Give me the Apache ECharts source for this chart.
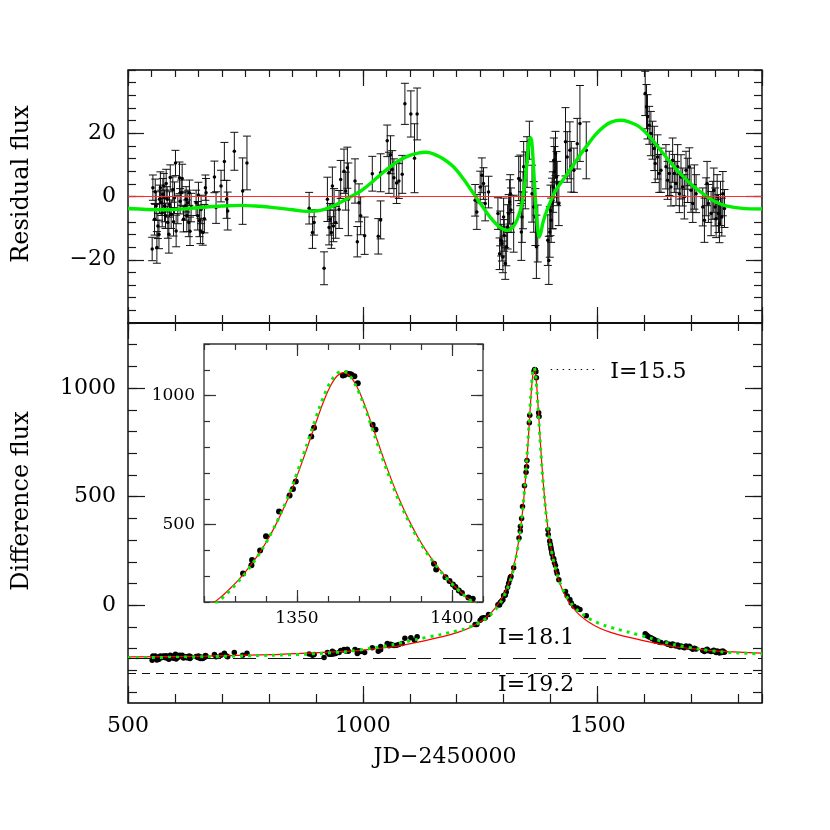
<!DOCTYPE html>
<html><head><meta charset="utf-8">
<script src="https://cdn.jsdelivr.net/npm/echarts@6/dist/echarts.min.js"></script>
<style>html,body{margin:0;padding:0;background:#fff}#c{width:830px;height:830px}</style>
</head><body><div id="c"></div>
<script>
// ---------- residual panel data (JD-2450000, residual flux, error) ----------
const resJD = [
551.5,553,556.5,558,560,561.5,563.6,566,567,569,570.7,572.8,574.2,576.3,577.7,579.9,581.3,583.4,584.8,587,588.4,590,591.9,595.4,597,599,601.1,602.5,606.1,609.6,611,613.2,615.3,618.1,621.6,623.8,625.2,627.3,629.4,630.8,632,634.4,645,648.5,650,652.1,654.2,655.6,659.2,662.7,664.8,666.2,684,687.5,698.1,705.2,710.1,712.3,726.4,744.1,753.3,
885.7,892.8,896.3,917.5,924.6,928.1,930.3,933.1,935.2,937.4,938.8,942.3,949.4,952.9,960,963.6,967.1,969.2,983.4,988.3,991.9,995.4,1003.9,1020.2,1032.9,1037.9,1037.9,1052,1055.6,1059.1,1062.7,1066.2,1071.9,1076.8,1083.9,1089.6,1102.3,1110.1,1115.7,
1239.2,1242.8,1249.9,1253.5,1257,1260.6,1267.7,1287.7,1291.2,1292.6,1294.8,1296.2,1298.3,1299.8,1301.2,1303.3,1305.5,1308.3,1310.5,1312.6,1314,1315.5,1321.2,1331.9,1335.4,1337.5,1339,1341.1,1342.5,1346.1,1349.7,1354.7,1360.4,1363.9,1367.5,1369.6,1372.5,1393.9,1396,1398.1,1399.6,1401,1403.1,1404.6,1405.3,1406.7,1408.1,1410.3,1412.4,1413.8,1417.4,1431.6,1435.2,1440.9,1443.8,1449.4,1456.6,1462.3,1475.8,
1601.3,1604.1,1606.2,1609.8,1613.4,1616.9,1620.5,1622.6,1627.6,1631.2,1634.8,1645.5,1649,1652.6,1656.1,1659.7,1663.3,1666.8,1670.4,1674,1677.5,1681.1,1684.7,1688.2,1691.8,1695.3,1698.9,1702.5,1706,1709.6,1723.8,1727.4,1731,1733.1,1735.9,1741.6,1745.2,1747.3,1750.2,1752.3,1754.5,1757.3,1759.4,1761.6,1764.4,1766.6,1770.1];
const resVal = [
-16.6,2.8,-7.2,1.5,-3,-16.1,-9.3,-12,-0.9,2.8,-2,-5.1,0.7,3.3,-3,-6.1,4.1,-0.9,-8.2,-11.9,-2.5,6,-5.6,2.2,-8,-0.4,10.6,-10.9,-4.1,5.9,-1.5,1.2,5.7,-7.2,-3,-0.9,-6.1,-2,-8.2,1.2,-11,-3.5,-2,-6.1,0.5,-7.7,-10.9,-4.1,-11.4,-7,2.8,1.2,6.2,-3.5,3.3,11.1,-0.9,-4.6,14.3,1.7,10.6,
-3.7,-11.4,-8.2,-22.7,-0.9,-9.8,-7.2,-11.4,3.3,-9.3,-3,-8.2,-4.1,5.4,8,1.7,9.1,-0.9,4.9,-14.3,-2,-6.1,-12.4,7.2,-12.6,-7.4,7.5,17.6,7.5,13.2,8.5,5.9,4.3,4.9,7,29.3,26.1,12.1,26.1,
-1.2,-4.9,3,6.7,4.1,-2.2,1.4,-5.4,-18.1,-10.1,-13.8,-14.9,-19.1,-6.5,-12.3,-21.2,-15.9,-9.6,-5.4,-1.7,0.9,-4.3,-8.6,5.7,5.1,-11.2,-6.5,-1.2,9.4,5.1,10.9,17.8,0.9,-3.3,-6.5,-15.9,-11.7,-13.8,-20.2,-11.2,-4.4,-7.5,-2.2,-1.2,3,11.5,7.8,13.6,6.2,4.1,-2.2,17.3,12.5,14.6,9.4,8.3,16.7,23.1,14.6,
32.6,28.4,25.2,22.5,19.9,17.8,15.2,10.4,12.5,7.3,8.3,9.4,5.1,7.3,3,11.5,7.3,4.1,9.4,0.9,6.2,3,-0.1,8.3,5.1,9.4,2,-2.2,3,0.9,-3.3,-7.5,-0.1,4.1,-2.2,-5.4,-1.2,2,-3.3,-7,-0.1,-5.4,-8.6,-2.2,-6.5,0.9,-3.8];
const resErr = [
3.7,4,5,4,4.5,5,4,4.5,4.5,5,4,4.5,5,4,5,4,4.5,4,5,6,4,4,4.5,4,4.5,5,4,5,4.5,5,4,4,4.5,4,4.5,4,5,4,4.5,4,4.5,4.5,4,4.5,4,5,4,4.5,4,4.5,4,4.5,5,5,5,6,6,6,6,10.5,8.5,
5,5,4,5.2,7,5.5,5,5,6,5,5.5,5,6,6,7,6,6.5,11.5,7,4.8,6,6,5.9,5.5,5.6,6,6,5,6.5,6,6,6,6.5,5.5,6,6.5,7.3,10.9,8.2,
5,5.5,5,5.5,5,5.5,5,5,5,5.5,5,5.5,5,6,5,5,6,7,6,7,6,7,9,7,8,9,8,9,8,9,8,6,9,8,9,10,9,8,7.6,8,8,7,8,9,8,7,8,7,8,7,7,10.8,8,9,8,7,8,12,9,
7,7,7,6,7,6,7,6,7,6,7,7,6,7,6,7,6,7,7,6,7,6,7,6,7,6,7,6,7,6,6,7,6,7,6,7,6,7,6,6,7,6,6,7,6,7,6];

// green model minus red model (residual panel curve)
const modelResJD  = [500,540,580,620,660,700,740,780,810,850,880,900,920,940,960,980,1000,1020,1040,1060,1080,1100,1120,1135,1150,1170,1193,1215,1236,1255,1271,1290,1308,1320,1328,1334,1339,1344,1349,1353,1357,1360,1364,1368,1372,1375.5,1379,1384,1392,1400,1410,1425,1442,1460,1478,1495,1514,1530,1549,1565,1585,1600,1620,1640,1663,1685,1706,1728,1749,1770,1799,1825,1850];
const modelResVal = [-3.8,-4.1,-4.2,-3.9,-3.4,-3,-2.8,-3.1,-3.5,-4.2,-4.7,-4.6,-4,-2.8,-1.3,0.4,2.2,4.6,7.2,9.6,11.6,13,13.8,14,13.5,12,9.4,5.4,0.9,-3.2,-6.5,-9.5,-10.7,-9.6,-7.5,-5,-2.2,3,10,16,18.6,17,8,-2,-9.5,-12.8,-11.5,-8,-4.4,-1.5,1.8,5,8.6,12.6,16.2,19.5,22.2,23.6,24.1,23.7,22.4,20.6,17.3,13.5,9.4,5.9,3,0.5,-1.5,-2.8,-3.6,-3.9,-3.9];

// ---------- difference-flux panel ----------
const fluxJD = [
551.5,553,556.5,558,560,561.5,563.6,566,567,569,570.7,572.8,574.2,576.3,577.7,579.9,581.3,583.4,584.8,587,588.4,590,591.9,595.4,597,599,601.1,602.5,606.1,609.6,611,613.2,615.3,618.1,621.6,623.8,625.2,627.3,629.4,630.8,632,634.4,645,648.5,650,652.1,654.2,655.6,659.2,662.7,664.8,666.2,684,687.5,698.1,705.2,710.1,712.3,726.4,744.1,753.3,
885.7,892.8,896.3,917.5,924.6,928.1,930.3,933.1,935.2,937.4,938.8,942.3,949.4,952.9,960,963.6,967.1,969.2,983.4,988.3,991.9,995.4,1003.9,1020.2,1032.9,1037.9,1037.9,1052,1055.6,1059.1,1062.7,1066.2,1071.9,1076.8,1083.9,1089.6,1102.3,1110.1,1115.7,
1239.2,1242.8,1249.9,1253.5,1257,1260.6,1267.7,1287.7,1291.2,1292.6,1294.8,1296.2,1298.3,1299.8,1301.2,1303.3,1305.5,1308.3,1310.5,1312.6,1314,1315.5,1321.2,
1332.6,1335.3,1335.5,1338.1,1340,1344.2,1347.6,1348.7,1349.6,1354.6,1355.5,1364.8,1365.3,1366,1366.9,1367.5,1368.5,1369.6,1374.4,1375.3,1394.2,1394.9,1397.9,1399.2,1400.3,1401.1,1402.2,1403.2,
1405.3,1406.7,1408.1,1410.3,1412.4,1413.8,1417.4,1431.6,1435.2,1440.9,1443.8,1449.4,1456.6,1462.3,1475.8,
1601.3,1604.1,1606.2,1609.8,1613.4,1616.9,1620.5,1622.6,1627.6,1631.2,1634.8,1645.5,1649,1652.6,1656.1,1659.7,1663.3,1666.8,1670.4,1674,1677.5,1681.1,1684.7,1688.2,1691.8,1695.3,1698.9,1702.5,1706,1709.6,1723.8,1727.4,1731,1733.1,1735.9,1741.6,1745.2,1747.3,1750.2,1752.3,1754.5,1757.3,1759.4,1761.6,1764.4,1766.6,1770.1];
const fluxVal = [
-253,-233,-243,-234,-239,-252,-245,-248,-237,-233,-238,-241,-235,-233,-239,-242,-232,-237,-244,-248,-238,-230,-242,-234,-244,-236,-225,-247,-240,-230,-236,-235,-230,-243,-239,-237,-242,-236,-242,-233,-245,-238,-236,-240,-234,-242,-245,-238,-245,-241,-231,-233,-227,-237,-230,-221,-233,-237,-218,-230,-221,
-224,-230,-227,-240,-217,-226,-223,-226,-212,-224,-218,-222,-218,-208,-204,-210,-203,-212,-204,-222,-209,-213,-217,-195,-212,-205,-190,-176,-186,-179,-183,-185,-184,-181,-176,-152,-150,-161,-145,
-89,-88,-69,-60,-57,-58,-43,2,1,13,16,21,26,45,46,46,61,83,101,117,128,133,173,
310,342,363,400,455,551,613,638,667,841,875,1078,1080,1086,1084,1082,1075,1048,887,869,348,326,296,281,268,258,245,235,
217,213,196,183,159,146,118,63,43,27,11,-4,-12,-19,-48,
-131,-137,-141,-146,-150,-154,-158,-164,-164,-170,-171,-174,-180,-179,-185,-178,-183,-187,-183,-192,-188,-192,-196,-188,-192,-189,-197,-202,-198,-201,-208,-213,-206,-202,-209,-213,-210,-207,-213,-217,-210,-216,-220,-213,-218,-211,-216];

// model light curves: red (fit) and green (dotted)
const modelJD = [500,665,805,880,965,1015,1065,1115,1165,1190,1215,1235,1250,1265,1275,1285,1295,1305,1310,1315,1319,1321,1323,1325,1327,1329,1331,1333,1335,1337,1339,1341,1343,1345,1347,1349,1351,1353,1355,1357,1359,1361,1363,1365,1367,1369,1371,1373,1375,1377,1379,1381,1383,1385,1387,1389,1391,1393,1395,1397,1399,1401,1403,1405,1407,1409,1411,1415,1420,1425,1435,1445,1455,1465,1480,1495,1515,1540,1565,1615,1665,1715,1765,1850];
const redFlux = [-238,-234,-227,-220,-212,-203,-191,-171,-147,-133,-115,-95,-76,-51,-30,-4,29,72,99,131,161,178,196,215,236,259,284,312,342,375,411,451,496,545,598,657,721,788,858,926,990,1042,1077,1089,1077,1042,990,926,858,788,721,657,598,545,496,451,411,375,342,312,284,259,236,215,196,178,161,131,99,72,29,-4,-30,-51,-76,-95,-115,-133,-147,-171,-191,-203,-212,-220];
const greenFlux = [-242,-237,-230,-225,-213,-199,-181,-157,-135,-123,-110,-94,-78,-56,-37,-13,19,62,89,121,151,169,187,207,228,252,278,307,338,372,409,451,498,549,605,667,734,804,875,945,1008,1057,1087,1095,1078,1038,982,916,846,776,710,647,589,537,489,445,406,371,339,309,282,258,236,215,197,180,163,134,103,77,37,5,-19,-37,-59,-76,-93,-109,-123,-153,-182,-201,-215,-224];

// magnitude reference levels
const levelText = ['I=15.5','I=18.1','I=19.2'];
const levelFlux = [1085,-243,-315];
const peakLineJD = [1400,1500];
const levelLabelJD = [1526,1287,1287];
const levelLabelFlux = [1072,-151,-367];

// tick values
const mainXMajor = [500,1000,1500];
const resYMajor = [-20,0,20];
const fluxYMajor = [0,500,1000];
const fluxYMinor = [-400,-300,-200,-100,0,100,200,300,400,500,600,700,800,900,1000,1100,1200];
const insetXMajor = [1350,1400];
const insetYMajor = [500,1000];

// ---------- chart ----------
const FONT = 'DejaVu Serif';
const chart = echarts.init(document.getElementById('c'), null, {renderer:'canvas'});
const tickStyle = (c,w)=>({color:c||'#1a1a1a', width:w||1.2});
const numFmt = v => (v<0 ? '\u2212'+Math.abs(v) : String(v));

function axis(o){
  const a = {
    type:'value', gridIndex:o.g, position:o.pos, min:o.min, max:o.max, z:o.z||0,
    axisLine:{show:false,onZero:false}, splitLine:{show:false},
    axisTick:{show:true, inside:true, length:o.len, lineStyle:tickStyle(o.tc,o.tw)},
    axisLabel:{show:false}
  };
  if (o.interval!==undefined) a.interval = o.interval;
  if (o.custom) a.axisTick.customValues = o.custom;
  if (o.label) a.axisLabel = Object.assign({show:true, fontFamily:FONT, color:'#000', showMinLabel:true, showMaxLabel:true, formatter:numFmt}, o.label);
  return a;
}

const xAxis = [
  axis({g:0,pos:'bottom',min:500,max:1850,interval:500,len:16}),
  axis({g:0,pos:'bottom',min:500,max:1850,interval:100,len:8}),
  axis({g:0,pos:'top',min:500,max:1850,interval:500,len:16}),
  axis({g:0,pos:'top',min:500,max:1850,interval:50,len:7}),
  axis({g:1,pos:'bottom',min:500,max:1850,custom:mainXMajor,len:17,label:{customValues:mainXMajor,fontSize:22,margin:12}}),
  axis({g:1,pos:'bottom',min:500,max:1850,interval:100,len:9}),
  axis({g:1,pos:'top',min:500,max:1850,custom:mainXMajor,len:16}),
  axis({g:1,pos:'top',min:500,max:1850,interval:100,len:8}),
  axis({g:2,pos:'bottom',min:1320,max:1410,custom:insetXMajor,len:12,z:6,tc:'#333',label:{customValues:insetXMajor,fontSize:17,margin:8}}),
  axis({g:2,pos:'bottom',min:1320,max:1410,interval:10,len:6,z:6,tc:'#333'}),
  axis({g:2,pos:'top',min:1320,max:1410,custom:insetXMajor,len:12,z:6,tc:'#333'}),
  axis({g:2,pos:'top',min:1320,max:1410,interval:10,len:6,z:6,tc:'#333'})
];
const yAxis = [
  axis({g:0,pos:'left',min:-40,max:40,custom:resYMajor,len:16,label:{customValues:resYMajor,fontSize:22,margin:12}}),
  axis({g:0,pos:'left',min:-40,max:40,interval:4,len:8}),
  axis({g:0,pos:'right',min:-40,max:40,custom:resYMajor,len:16}),
  axis({g:0,pos:'right',min:-40,max:40,interval:4,len:8}),
  axis({g:1,pos:'left',min:-450,max:1300,custom:fluxYMajor,len:17,label:{customValues:fluxYMajor,fontSize:22,margin:12}}),
  axis({g:1,pos:'left',min:-450,max:1300,custom:fluxYMinor,len:9}),
  axis({g:1,pos:'right',min:-450,max:1300,custom:fluxYMajor,len:17}),
  axis({g:1,pos:'right',min:-450,max:1300,custom:fluxYMinor,len:9}),
  axis({g:2,pos:'left',min:200,max:1200,custom:insetYMajor,len:12,z:6,tc:'#333',label:{customValues:insetYMajor,fontSize:17,margin:9}}),
  axis({g:2,pos:'left',min:200,max:1200,interval:100,len:6,z:6,tc:'#333'}),
  axis({g:2,pos:'right',min:200,max:1200,custom:insetYMajor,len:12,z:6,tc:'#333'}),
  axis({g:2,pos:'right',min:200,max:1200,interval:100,len:6,z:6,tc:'#333'})
];

const errData = resJD.map((t,i)=>[t, resVal[i]-resErr[i], resVal[i]+resErr[i]]);
const resPts = resJD.map((t,i)=>[t, resVal[i]]);
const resModel = modelResJD.map((t,i)=>[t, modelResVal[i]]);
const fluxPts = fluxJD.map((t,i)=>[t, fluxVal[i]]);
const redLine = modelJD.map((t,i)=>[t, redFlux[i]]);
const greenLine = modelJD.map((t,i)=>[t, greenFlux[i]]);
const labelPts = levelText.map((s,i)=>[levelLabelJD[i], levelLabelFlux[i], s]);

const GREEN = '#00ee00', RED = '#ff0000';

const option = {
  animation:false,
  backgroundColor:'#fff',
  grid:[
    {left:128, top:70, width:634, height:253, show:true, borderColor:'#000', borderWidth:1.4, backgroundColor:'transparent', z:0},
    {left:128, top:323, width:634, height:380, show:true, borderColor:'#000', borderWidth:1.4, backgroundColor:'transparent', z:0},
    {left:204, top:344, width:279, height:258, show:true, borderColor:'#333', borderWidth:1.3, backgroundColor:'#fff', z:5}
  ],
  xAxis, yAxis,
  graphic:[
    {type:'text', x:22, y:184, rotation:Math.PI/2, z:10, style:{text:'Residual flux', font:'24px "DejaVu Serif"', fill:'#000', textAlign:'center', textVerticalAlign:'middle'}},
    {type:'text', x:22, y:501, rotation:Math.PI/2, z:10, style:{text:'Difference flux', font:'24px "DejaVu Serif"', fill:'#000', textAlign:'center', textVerticalAlign:'middle'}},
    {type:'text', x:445, y:757, z:10, style:{text:'JD\u22122450000', font:'22px "DejaVu Serif"', fill:'#000', textAlign:'center', textVerticalAlign:'middle'}}
  ],
  series:[
    // residual panel
    {type:'custom', xAxisIndex:0, yAxisIndex:0, clip:true, z:2, data:errData, encode:{x:0,y:[1,2]},
     renderItem:(params, api)=>{
       const x=api.value(0), lo=api.value(1), hi=api.value(2);
       const p1=api.coord([x,lo]), p2=api.coord([x,hi]); const w=4;
       const st={stroke:'#111', lineWidth:1};
       return {type:'group', children:[
         {type:'line', shape:{x1:p1[0],y1:p1[1],x2:p2[0],y2:p2[1]}, style:st},
         {type:'line', shape:{x1:p1[0]-w,y1:p1[1],x2:p1[0]+w,y2:p1[1]}, style:st},
         {type:'line', shape:{x1:p2[0]-w,y1:p2[1],x2:p2[0]+w,y2:p2[1]}, style:st}
       ]};
     }},
    {type:'scatter', xAxisIndex:0, yAxisIndex:0, z:3, symbolSize:3.5, itemStyle:{color:'#000', opacity:1}, data:resPts, silent:true},
    {type:'line', xAxisIndex:0, yAxisIndex:0, z:4, data:resModel, showSymbol:false, smooth:0.35,
     lineStyle:{color:GREEN, width:3.4}, silent:true,
     markLine:{silent:true, symbol:['none','none'], label:{show:false},
       data:[{yAxis:0, lineStyle:{color:'#ff2a2a', width:1.2, type:'solid'}}]}},
    // difference-flux panel
    {type:'scatter', xAxisIndex:4, yAxisIndex:4, z:2, symbolSize:5.5, itemStyle:{color:'#000', opacity:1}, data:fluxPts, silent:true},
    {type:'line', xAxisIndex:4, yAxisIndex:4, z:3, data:redLine, showSymbol:false, smooth:0.3,
     lineStyle:{color:RED, width:1.2}, silent:true,
     markLine:{silent:true, symbol:['none','none'], label:{show:false},
       data:[
         {yAxis:levelFlux[1], lineStyle:{color:'#111', width:1.1, type:[23,12]}},
         {yAxis:levelFlux[2], lineStyle:{color:'#111', width:1.1, type:[8,6]}},
         [{coord:[peakLineJD[0], levelFlux[0]], lineStyle:{color:'#111', width:1.2, type:[1.5,4.5]}}, {coord:[peakLineJD[1], levelFlux[0]]}]
       ]}},
    {type:'line', xAxisIndex:4, yAxisIndex:4, z:4, data:greenLine, showSymbol:false, smooth:0.3,
     lineStyle:{color:GREEN, width:3, type:[3,5], cap:'butt'}, silent:true},
    {type:'scatter', xAxisIndex:4, yAxisIndex:4, z:4, symbolSize:1, itemStyle:{color:'rgba(0,0,0,0)', opacity:1}, data:labelPts, silent:true,
     label:{show:true, position:'right', distance:0, formatter:p=>p.value[2], fontFamily:FONT, fontSize:22, color:'#000', opacity:1}},
    // inset
    {type:'scatter', xAxisIndex:8, yAxisIndex:8, z:6, symbolSize:6, itemStyle:{color:'#000', opacity:1}, data:fluxPts, silent:true},
    {type:'line', xAxisIndex:8, yAxisIndex:8, z:7, data:redLine, showSymbol:false, smooth:0.3,
     lineStyle:{color:RED, width:1.2}, silent:true},
    {type:'line', xAxisIndex:8, yAxisIndex:8, z:8, data:greenLine, showSymbol:false, smooth:0.3,
     lineStyle:{color:GREEN, width:3, type:[3,5], cap:'butt'}, silent:true}
  ]
};
chart.setOption(option);
</script>
</body></html>
